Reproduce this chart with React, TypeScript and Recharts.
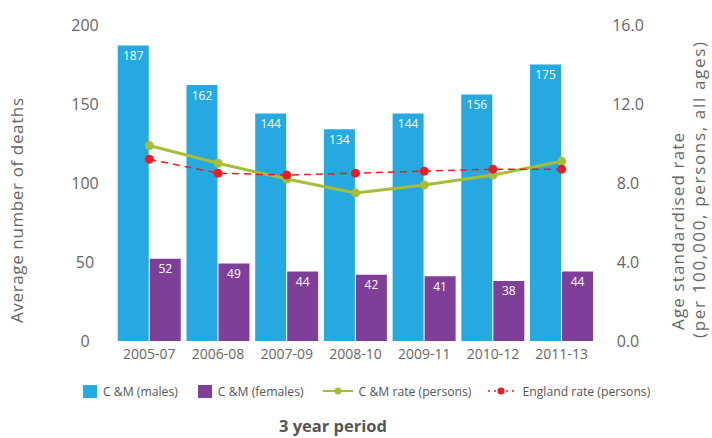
import React from 'react'
import {
  ComposedChart,
  Bar,
  Line,
  XAxis,
  YAxis,
  LabelList,
} from 'recharts'

const periods = ['2005-07', '2006-08', '2007-09', '2008-10', '2009-11', '2010-12', '2011-13']
const males = [187, 162, 144, 134, 144, 156, 175]
const females = [52, 49, 44, 42, 41, 38, 44]
const cmRate = [9.9, 9.0, 8.2, 7.5, 7.9, 8.4, 9.1]
const englandRate = [9.2, 8.5, 8.4, 8.5, 8.6, 8.7, 8.7]
const countTicks = [0, 50, 100, 150, 200]
const rateTicks = [0, 4, 8, 12, 16]

const BLUE = '#25a9e0'
const PURPLE = '#7f3f98'
const GREEN = '#a6bd36'
const RED = '#ed1c24'
const GREY = '#666'
const FONT = '"Open Sans", "Noto Sans", sans-serif'

const data = periods.map((p, i) => ({
  period: p,
  males: males[i],
  females: females[i],
  cmRate: cmRate[i],
  englandRate: englandRate[i],
}))

const LeftTick = ({ y, payload }: any) => (
  <text x={85} y={y} dy="0.35em" textAnchor="middle" fill={GREY} fontSize={16} fontFamily={FONT}>
    {payload.value}
  </text>
)

const RightTick = ({ y, payload }: any) => (
  <text x={628} y={y} dy="0.35em" textAnchor="middle" fill={GREY} fontSize={16} fontFamily={FONT}>
    {Number(payload.value).toFixed(1)}
  </text>
)

const BottomTick = ({ x, y, payload }: any) => (
  <text x={x} y={y} dy="0.71em" textAnchor="middle" fill={GREY} fontSize={14} fontFamily={FONT}>
    {payload.value}
  </text>
)

function LegendItem({ icon, label, gap }: { icon: React.ReactNode; label: string; gap: number }) {
  return (
    <div style={{ display: 'flex', alignItems: 'center', marginRight: gap }}>
      {icon}
      <span style={{ marginLeft: 6, fontSize: 12.2, color: '#555', fontFamily: FONT, whiteSpace: 'nowrap' }}>
        {label}
      </span>
    </div>
  )
}

export default function App() {
  return (
    <div style={{ position: 'absolute', left: 0, top: 0, width: 712, height: 438, background: '#fff' }}>
      <ComposedChart
        width={712}
        height={438}
        data={data}
        margin={{ top: 25, right: 0, bottom: 67, left: 0 }}
        barCategoryGap="4%"
        barGap={1}
      >
        <XAxis
          dataKey="period"
          height={30}
          axisLine={false}
          tickLine={false}
          tick={<BottomTick />}
          interval={0}
        />
        <YAxis
          yAxisId="left"
          width={115}
          domain={[0, 200]}
          ticks={countTicks}
          axisLine={false}
          tickLine={false}
          tick={<LeftTick />}
        />
        <YAxis
          yAxisId="right"
          orientation="right"
          width={116}
          domain={[0, 16]}
          ticks={rateTicks}
          axisLine={false}
          tickLine={false}
          tick={<RightTick />}
        />
        <Bar yAxisId="left" dataKey="males" fill={BLUE} isAnimationActive={false}>
          <LabelList dataKey="males" position="insideTop" offset={6} fill="#fff" fontSize={12} fontFamily={FONT} />
        </Bar>
        <Bar yAxisId="left" dataKey="females" fill={PURPLE} isAnimationActive={false}>
          <LabelList dataKey="females" position="insideTop" offset={6} fill="#fff" fontSize={12} fontFamily={FONT} />
        </Bar>
        <Line
          yAxisId="right"
          dataKey="cmRate"
          stroke={GREEN}
          strokeWidth={3}
          dot={{ r: 4.5, fill: GREEN, stroke: 'none' }}
          activeDot={false}
          isAnimationActive={false}
        />
        <Line
          yAxisId="right"
          dataKey="englandRate"
          stroke={RED}
          strokeWidth={1.5}
          strokeDasharray="7 5"
          dot={{ r: 4.5, fill: RED, stroke: 'none' }}
          activeDot={false}
          isAnimationActive={false}
        />
      </ComposedChart>

      {/* axis titles */}
      <svg width={712} height={438} style={{ position: 'absolute', left: 0, top: 0, pointerEvents: 'none' }}>
        <text
          x={23}
          y={323}
          transform="rotate(-90 23 323)"
          fill={GREY}
          fontSize={17}
          fontFamily={FONT}
          textLength={225}
          lengthAdjust="spacing"
        >
          Average number of deaths
        </text>
        <text
          x={684}
          y={330}
          transform="rotate(-90 684 330)"
          fill={GREY}
          fontSize={17}
          fontFamily={FONT}
          textLength={197}
          lengthAdjust="spacing"
        >
          Age standardised rate
        </text>
        <text
          x={705}
          y={338}
          transform="rotate(-90 705 338)"
          fill={GREY}
          fontSize={17}
          fontFamily={FONT}
          textLength={296}
          lengthAdjust="spacing"
        >
          (per 100,000, persons, all ages)
        </text>
        <text
          x={333}
          y={426}
          dy="0.35em"
          textAnchor="middle"
          fill="#555"
          fontSize={16.5}
          fontWeight={700}
          fontFamily={FONT}
        >
          3 year period
        </text>
      </svg>

      {/* legend */}
      <div style={{ position: 'absolute', left: 83, top: 383, display: 'flex', alignItems: 'center', height: 16 }}>
        <LegendItem
          gap={20}
          label="C &M (males)"
          icon={<div style={{ width: 14, height: 13, background: BLUE }} />}
        />
        <LegendItem
          gap={19}
          label="C &M (females)"
          icon={<div style={{ width: 14, height: 13, background: PURPLE }} />}
        />
        <LegendItem
          gap={17}
          label="C &M rate (persons)"
          icon={
            <svg width={30} height={10}>
              <line x1={0} y1={5} x2={30} y2={5} stroke={GREEN} strokeWidth={2} />
              <circle cx={15} cy={5} r={3.5} fill={GREEN} />
            </svg>
          }
        />
        <LegendItem
          gap={0}
          label="England rate (persons)"
          icon={
            <svg width={28} height={10}>
              <line x1={0} y1={5} x2={28} y2={5} stroke={RED} strokeWidth={1.5} strokeDasharray="2 4" />
              <circle cx={13} cy={5} r={3.5} fill={RED} />
            </svg>
          }
        />
      </div>
    </div>
  )
}
